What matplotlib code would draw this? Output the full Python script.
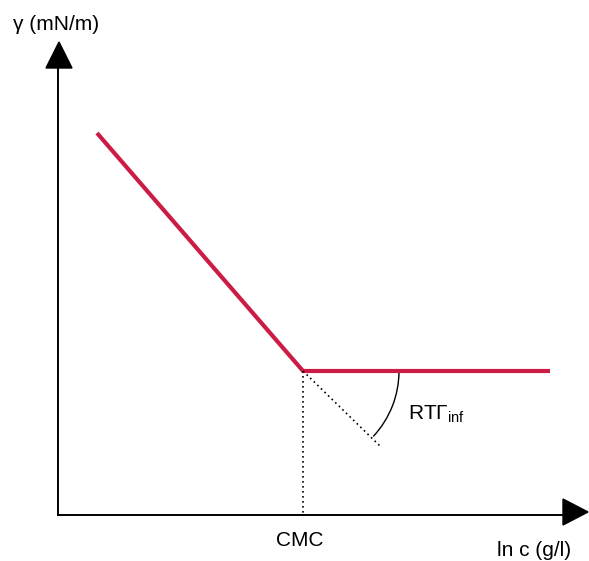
import matplotlib.pyplot as plt
from matplotlib.patches import Arc, Polygon

plt.rcParams['font.family'] = ['Liberation Sans', 'DejaVu Sans']
plt.rcParams['mathtext.fontset'] = 'custom'
plt.rcParams['mathtext.rm'] = 'Liberation Sans'
plt.rcParams['mathtext.it'] = 'Liberation Sans'

# schematic data (arbitrary units: ln c, gamma)
ln_c = [39, 245, 492]
gamma = [382, 144, 144]
cmc = 245
slope_end = (323, 68)  # end of the extrapolated pre-CMC slope
arc_radius = 96
arc_angle = 43

fig = plt.figure(figsize=(5.89, 5.61), dpi=100)
ax = fig.add_axes([0, 0, 1, 1])
ax.set_xlim(-58, 531)
ax.set_ylim(-46, 515)
ax.axis('off')

# axes with arrowheads
ax.plot([0, 505], [0, 0], color='black', lw=1.4)
ax.plot([0, 0], [0, 447], color='black', lw=1.4)
ax.add_patch(Polygon([[505, 16], [505, -10], [530, 3]], closed=True, color='black'))
ax.add_patch(Polygon([[-12, 447], [14, 447], [1, 473]], closed=True, color='black'))

# surface tension curve
ax.plot(ln_c, gamma, color='#cc1b44', lw=3, solid_capstyle='butt')

# CMC marker and extrapolated slope
ax.plot([cmc, cmc], [gamma[1], 0], color='black', lw=1.2, linestyle=(0, (1, 2)))
ax.plot([cmc, slope_end[0]], [gamma[1], slope_end[1]], color='black', lw=1.2,
        linestyle=(0, (1, 2)))
ax.add_patch(Arc((cmc, gamma[1]), 2 * arc_radius, 2 * arc_radius,
                 theta1=-arc_angle, theta2=0, color='black', lw=1))

ax.text(350, 95, r'RT$\Gamma_{\mathrm{inf}}$', fontsize=15, va='baseline', ha='left')
ax.text(cmc - 3, -26, 'CMC', fontsize=15, ha='center', va='center')
ax.text(476, -35, 'ln c (g/l)', fontsize=15, ha='center', va='center')
ax.text(-45, 491, 'γ (mN/m)', fontsize=15, ha='left', va='center')

fig.savefig('out.png', dpi=100)
